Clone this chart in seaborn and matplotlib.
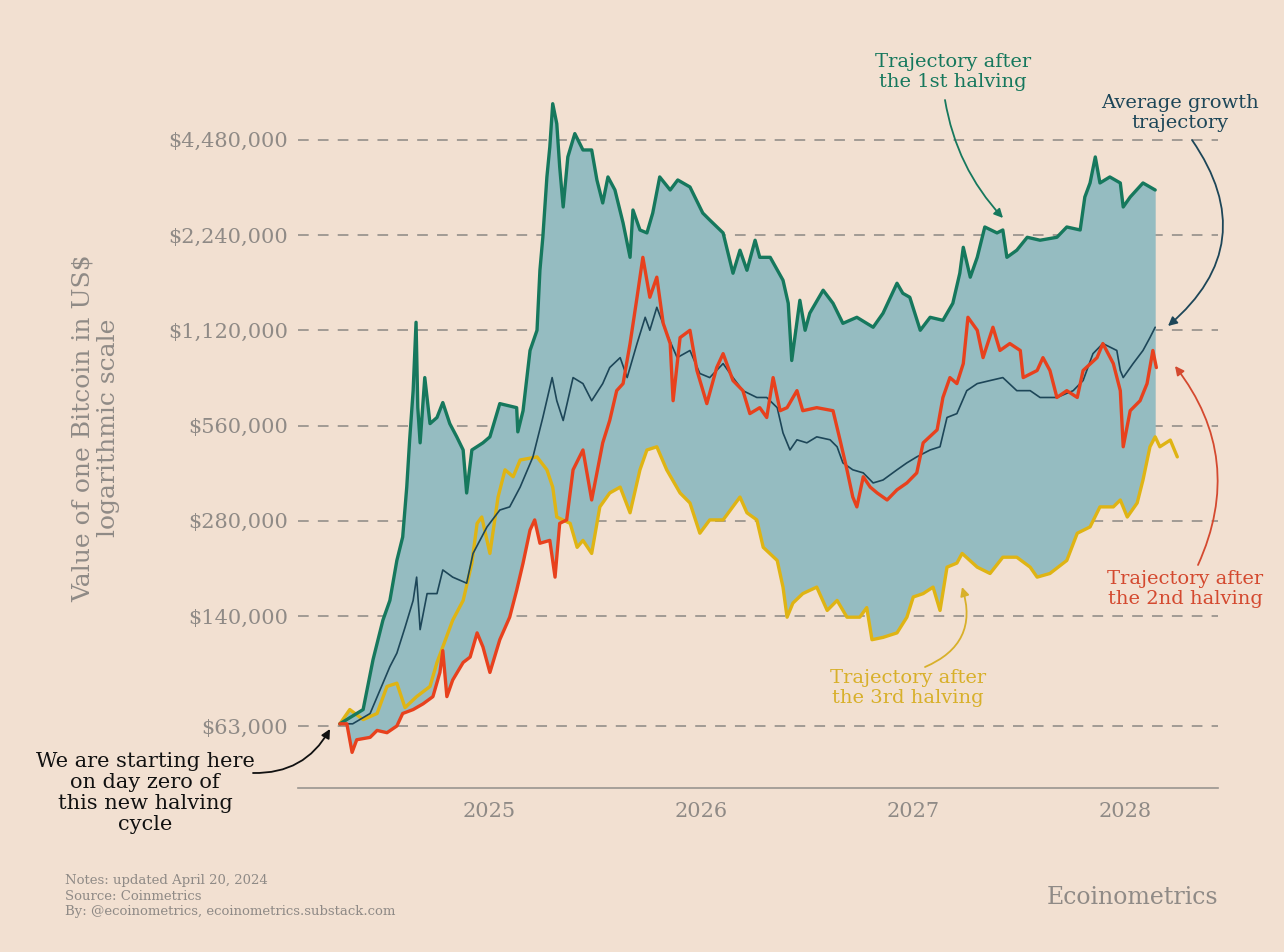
import numpy as np
import pandas as pd
import seaborn as sns
import matplotlib.pyplot as plt
import matplotlib.dates as mdates
from matplotlib.ticker import NullLocator, FixedLocator, FixedFormatter

# day zero = halving of April 20, 2024; values in thousands of US$
start = pd.Timestamp("2024-04-20")

first_days = [0, 40, 57, 74, 86, 98, 108, 115, 120, 126, 131, 134, 138, 146, 155, 167, 177, 189, 201, 212,
              218, 227, 246, 258, 275, 304, 306, 315, 327, 339, 344, 349, 356, 361, 366, 373, 378, 384, 392, 404,
              418, 433, 442, 452, 461, 473, 487, 499, 504, 516, 528, 538, 550, 568, 581, 602, 624, 636, 659, 676,
              688, 700, 714, 722, 740, 762, 771, 777, 791, 800, 808, 831, 848, 865, 889, 917, 934, 958, 968, 980,
              998, 1015, 1037, 1054, 1066, 1072, 1084, 1096, 1109, 1130, 1140, 1147, 1164, 1182, 1204, 1233, 1250,
              1273, 1281, 1290, 1299, 1307, 1324, 1342, 1347, 1359, 1381, 1402]
first_k = [64, 71, 102, 136, 157, 210, 249, 358, 505, 722, 1187, 638, 494, 794, 568, 594, 662, 568, 516, 469,
           343, 469, 494, 516, 657, 638, 535, 624, 967, 1120, 1733, 2203, 3416, 4249, 5820, 5031, 3674, 2746, 3951, 4682,
           4157, 4157, 3342, 2827, 3416, 3107, 2444, 1904, 2686, 2323, 2274, 2628, 3416, 3107, 3342, 3176, 2628, 2498, 2274, 1696,
           2005, 1733, 2156, 1904, 1904, 1612, 1363, 899, 1393, 1120, 1268, 1499, 1363, 1178, 1231, 1145, 1268, 1577, 1466, 1424,
           1120, 1231, 1204, 1363, 1696, 2048, 1648, 1904, 2374, 2274, 2323, 1904, 2005, 2203, 2156, 2203, 2374,
           2323, 2952, 3270, 3951, 3270, 3416, 3270, 2746, 2952, 3270, 3107]

second_days = [0, 12, 21, 29, 52, 64, 81, 98, 108, 126, 143, 160, 172, 177, 184, 194, 212, 224, 236, 246,
               258, 275, 292, 304, 315, 327, 335, 344, 361, 370, 378, 390, 401, 418, 433, 442, 452, 464, 476, 487,
               499, 511, 521, 533, 545, 556, 568, 573, 585, 602, 614, 631, 648, 659, 676, 693, 705, 722, 734, 745,
               757, 769, 786, 796, 820, 848, 860, 872, 882, 889, 900, 912, 924, 941, 958, 975, 992, 1003, 1027, 1037,
               1049, 1061, 1072, 1080, 1096, 1106, 1123, 1135, 1152, 1170, 1175, 1199, 1209, 1221, 1233, 1250, 1268,
               1278, 1302, 1312, 1330, 1342, 1347, 1359, 1376, 1388, 1398, 1404]
second_k = [64, 64, 52, 57, 58, 61, 60, 63, 69, 71, 74, 78, 93, 109, 78, 88, 100, 104, 124, 112,
            93, 118, 139, 169, 206, 262, 282, 238, 243, 186, 275, 282, 406, 469, 326, 397, 494, 581, 722, 760,
            1017, 1424, 1904, 1424, 1648, 1178, 1017, 671, 1062, 1120, 836, 657, 854, 945, 777, 722, 611, 638, 594, 794,
            624, 638, 722, 624, 638, 624, 505, 406, 333, 310, 386, 358, 343, 326, 351, 369, 397, 494, 543, 687,
            794, 760, 879, 1231, 1120, 918, 1145, 967, 1017, 967, 794, 836, 918, 836, 687, 722, 687,
            836, 918, 1017, 879, 722, 480, 624, 671, 760, 967, 854]

third_days = [0, 17, 40, 64, 81, 98, 112, 132, 155, 167, 177, 194, 212, 227, 236, 244, 258, 272, 284, 298,
              310, 339, 356, 366, 373, 396, 408, 418, 433, 447, 464, 482, 499, 516, 528, 545, 562, 585, 602, 619,
              636, 659, 688, 700, 717, 728, 752, 762, 769, 779, 796, 820, 838, 855, 872, 894, 906, 915, 934, 958,
              975, 986, 1003, 1020, 1032, 1044, 1061, 1070, 1096, 1118, 1140, 1164, 1187, 1199, 1221, 1250, 1268,
              1290, 1307, 1330, 1342, 1354, 1371, 1381, 1393, 1402, 1410, 1428, 1440]
third_k = [64, 71, 66, 69, 84, 86, 72, 78, 84, 100, 112, 136, 157, 206, 275, 288, 221, 333, 406, 386,
           436, 446, 406, 358, 288, 275, 231, 243, 221, 310, 343, 358, 297, 406, 469, 480, 406, 343, 319, 256,
           282, 282, 333, 297, 282, 231, 210, 173, 139, 154, 165, 173, 146, 157, 139, 139, 149, 118, 120, 124,
           139, 161, 165, 173, 146, 200, 206, 221, 200, 191, 215, 215, 200, 186, 191, 210, 256,
           268, 310, 310, 326, 288, 319, 377, 480, 516, 480, 504, 446]

avg_days = [0, 22, 52, 74, 86, 98, 112, 126, 132, 138, 150, 167, 177, 194, 218, 229, 253, 275, 292, 310,
            332, 349, 365, 373, 384, 401, 418, 433, 452, 464, 482, 494, 511, 525, 533, 545, 562, 580, 602, 619,
            636, 659, 676, 693, 717, 734, 752, 762, 774, 786, 803, 820, 843, 855, 865, 882, 900, 917, 934, 958,
            975, 992, 1015, 1032, 1044, 1061, 1078, 1096, 1118, 1140, 1164, 1187, 1204, 1233, 1261, 1278, 1295,
            1312, 1336, 1342, 1347, 1364, 1381, 1393, 1402]
avg_k = [64, 64, 69, 86, 97, 107, 129, 157, 186, 127, 165, 165, 196, 186, 178, 221, 268, 303, 310, 358,
         446, 594, 794, 671, 581, 794, 760, 671, 760, 854, 918, 794, 1017, 1231, 1120, 1324, 1094, 918, 967, 818,
         794, 879, 794, 722, 687, 687, 638, 531, 469, 505, 494, 516, 505, 480, 427, 406, 397, 369, 377, 406,
         427, 446, 469, 480, 594, 611, 722, 760, 777, 794, 722, 722, 687, 687, 722, 777, 945,
         1017, 967, 836, 794, 879, 967, 1062, 1145]

tick_values = [63000, 140000, 280000, 560000, 1120000, 2240000, 4480000]

BG = "#f2e0d1"
GREEN = "#16785d"
RED = "#e8411d"
YELLOW = "#dfb414"
NAVY = "#1d4658"
BAND = "#95bcc1"
GREY = "#8f8a86"


def to_frame(days, k):
    return pd.DataFrame({"date": start + pd.to_timedelta(days, unit="D"),
                         "value": np.array(k) * 1000.0})


def px(x, y):
    return (x / 1284, 1 - y / 952)


sns.set_theme(style="white")
plt.rcParams["font.family"] = ["DejaVu Serif"]

fig = plt.figure(figsize=(12.84, 9.52), dpi=100, facecolor=BG)
ax = fig.add_axes([298 / 1284, 1 - 788 / 952, 920 / 1284, 693 / 952])
ax.set_facecolor(BG)

first = to_frame(first_days, first_k)
second = to_frame(second_days, second_k)
third = to_frame(third_days, third_k)
avg = to_frame(avg_days, avg_k)

# band between the highest and lowest trajectory
grid = np.unique(np.concatenate([first_days, second_days, third_days]))
grid = grid[grid <= first_days[-1]]
logs = np.vstack([np.interp(grid, first_days, np.log(first_k)),
                  np.interp(grid, second_days, np.log(second_k)),
                  np.interp(grid, third_days, np.log(third_k))])
grid_dates = start + pd.to_timedelta(grid, unit="D")
ax.fill_between(grid_dates, np.exp(logs.min(axis=0)) * 1000, np.exp(logs.max(axis=0)) * 1000,
                color=BAND, lw=0, zorder=1)

for val in tick_values:
    ax.axhline(val, color="#8c8884", lw=1.1, dashes=(7, 6), zorder=0.5)

sns.lineplot(data=third, x="date", y="value", ax=ax, color=YELLOW, lw=2.4, estimator=None, sort=False, zorder=3)
sns.lineplot(data=first, x="date", y="value", ax=ax, color=GREEN, lw=2.4, estimator=None, sort=False, zorder=3)
sns.lineplot(data=avg, x="date", y="value", ax=ax, color=NAVY, lw=1.2, estimator=None, sort=False, zorder=4)
sns.lineplot(data=second, x="date", y="value", ax=ax, color=RED, lw=2.4, estimator=None, sort=False, zorder=5)

ax.set_yscale("log")
ax.set_ylim(40130, 6.2e6)
ax.set_xlim(pd.Timestamp("2024-02-08"), pd.Timestamp("2028-06-08"))
ax.yaxis.set_major_locator(FixedLocator(tick_values))
ax.yaxis.set_major_formatter(FixedFormatter([f"${v:,}" for v in tick_values]))
ax.yaxis.set_minor_locator(NullLocator())
ax.xaxis.set_major_locator(mdates.YearLocator())
ax.xaxis.set_major_formatter(mdates.DateFormatter("%Y"))
ax.set_xlabel("")
ax.set_ylabel("")
ax.tick_params(axis="y", length=0, pad=7, labelsize=15, labelcolor=GREY)
ax.tick_params(axis="x", length=4, width=1, color=GREY, pad=6, labelsize=15, labelcolor=GREY)
for side in ["top", "left", "right"]:
    ax.spines[side].set_visible(False)
ax.spines["bottom"].set_color("#9a9590")
ax.spines["bottom"].set_linewidth(1.2)

fig.text(*px(96, 428), "Value of one Bitcoin in US$\nlogarithmic scale", rotation=90,
         ha="center", va="center", multialignment="center", fontsize=18, color=GREY, linespacing=1.1)


def note(text, xy_text, color, start_pt, end_pt, rad, size=14):
    fig.text(*px(*xy_text), text, ha="center", va="center", multialignment="center",
             fontsize=size, color=color, linespacing=1.15)
    ax.annotate("", xy=px(*end_pt), xytext=px(*start_pt), xycoords="figure fraction",
                textcoords="figure fraction",
                arrowprops=dict(arrowstyle="-|>", color=color, lw=1.3, mutation_scale=13,
                                shrinkA=0, shrinkB=0, connectionstyle=f"arc3,rad={rad}"))


note("Trajectory after\nthe 1st halving", (953, 72), GREEN, (945, 100), (1003, 218), 0.15)
note("Average growth\ntrajectory", (1180, 113), NAVY, (1192, 140), (1168, 326), -0.45)
note("Trajectory after\nthe 2nd halving", (1185, 589), "#d4492f", (1198, 565), (1175, 366), 0.3)
note("Trajectory after\nthe 3rd halving", (908, 688), "#d8b02a", (925, 667), (962, 587), 0.45)
note("We are starting here\non day zero of\nthis new halving\ncycle", (145, 793), "#111111",
     (253, 773), (330, 729), 0.3, size=15)

fig.text(*px(65, 896), "Notes: updated April 20, 2024\nSource: Coinmetrics\nBy: @ecoinometrics, ecoinometrics.substack.com",
         ha="left", va="center", fontsize=9.5, color=GREY, linespacing=1.25)
fig.text(*px(1218, 897), "Ecoinometrics", ha="right", va="center", fontsize=17, color=GREY)

fig.savefig("out.png", dpi=100, facecolor=BG)
